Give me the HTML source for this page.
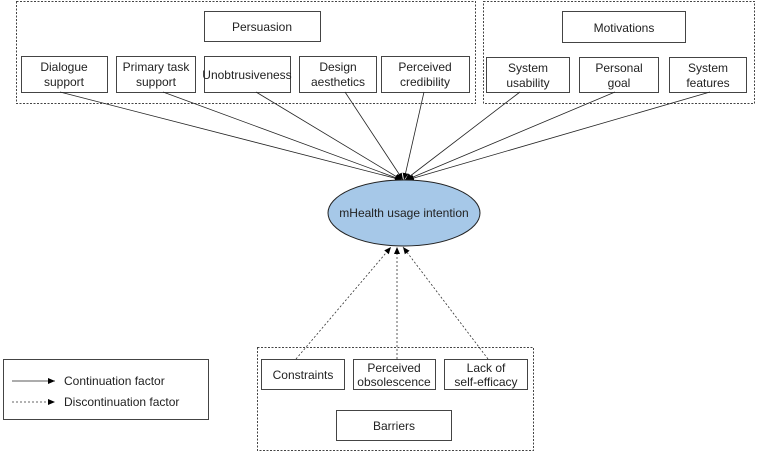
<!DOCTYPE html>
<html><head><style>
html,body{margin:0;padding:0;background:#fff;}
svg text{font-family:"Liberation Sans",sans-serif;font-size:12px;fill:#222;text-anchor:middle;}
</style></head><body>
<svg width="758" height="454" viewBox="0 0 758 454" xmlns="http://www.w3.org/2000/svg">
<defs>
<marker id="a" markerWidth="8" markerHeight="8" refX="7" refY="3" orient="auto" markerUnits="userSpaceOnUse"><path d="M0,0 L7,3 L0,6 z" fill="#000"/></marker>
</defs>
<g fill="none" stroke="#444" stroke-width="1">
<rect x="16.5" y="1.5" width="459" height="102" stroke-dasharray="2,1.5"/>
<rect x="483.5" y="1.5" width="271" height="102" stroke-dasharray="2,1.5"/>
<rect x="257.5" y="347.5" width="276" height="103" stroke-dasharray="2,1.5"/>
<rect x="204.5" y="11.5" width="116" height="30"/>
<rect x="21.5" y="56.5" width="86" height="36"/>
<rect x="116.5" y="56.5" width="79" height="36"/>
<rect x="204.5" y="56.5" width="86" height="36"/>
<rect x="299.5" y="56.5" width="77" height="36"/>
<rect x="381.5" y="56.5" width="88" height="36"/>
<rect x="562.5" y="11.5" width="123" height="31"/>
<rect x="486.5" y="57.5" width="83" height="35"/>
<rect x="579.5" y="57.5" width="79" height="35"/>
<rect x="669.5" y="57.5" width="77" height="35"/>
<rect x="261.5" y="359.5" width="83" height="30"/>
<rect x="353.5" y="359.5" width="82" height="30"/>
<rect x="444.5" y="359.5" width="83" height="30"/>
<rect x="336.5" y="410.5" width="115" height="30"/>
<rect x="3.5" y="359.5" width="205" height="60"/>
</g>
<g stroke="#222" stroke-width="0.8" marker-end="url(#a)">
<line x1="60" y1="92" x2="402" y2="180"/>
<line x1="163" y1="92" x2="402" y2="180"/>
<line x1="256" y1="92" x2="402" y2="180"/>
<line x1="345" y1="92" x2="403" y2="180"/>
<line x1="424" y1="92" x2="404" y2="180"/>
<line x1="520" y1="92" x2="405" y2="180"/>
<line x1="615" y1="92" x2="406" y2="180"/>
<line x1="710" y1="92" x2="407" y2="180"/>
</g>
<ellipse cx="404" cy="213" rx="76" ry="33" fill="#a6c8e8" stroke="#222" stroke-width="1"/>
<text x="404" y="217">mHealth usage intention</text>
<g stroke="#333" stroke-width="0.8" stroke-dasharray="2,2" marker-end="url(#a)">
<line x1="296" y1="359" x2="391" y2="247"/>
<line x1="397" y1="359" x2="397" y2="247"/>
<line x1="488" y1="359" x2="403" y2="247"/>
<line x1="12" y1="402" x2="55" y2="402"/>
</g>
<line x1="12" y1="381" x2="55" y2="381" stroke="#222" stroke-width="0.8" marker-end="url(#a)"/>
<g>
<text x="262" y="31">Persuasion</text>
<text x="64" y="71">Dialogue</text><text x="64" y="86">support</text>
<text x="156" y="71">Primary task</text><text x="156" y="86">support</text>
<text x="247" y="79">Unobtrusiveness</text>
<text x="338" y="71">Design</text><text x="338" y="86">aesthetics</text>
<text x="425" y="71">Perceived</text><text x="425" y="86">credibility</text>
<text x="624" y="32">Motivations</text>
<text x="528" y="72">System</text><text x="528" y="87">usability</text>
<text x="619" y="72">Personal</text><text x="619" y="87">goal</text>
<text x="708" y="72">System</text><text x="708" y="87">features</text>
<text x="303" y="379">Constraints</text>
<text x="394" y="372">Perceived</text><text x="394" y="386">obsolescence</text>
<text x="486" y="372">Lack of</text><text x="486" y="386">self-efficacy</text>
<text x="394" y="430">Barriers</text>
<text x="64" y="385" style="text-anchor:start">Continuation factor</text>
<text x="64" y="406" style="text-anchor:start">Discontinuation factor</text>
</g>
</svg>
</body></html>
